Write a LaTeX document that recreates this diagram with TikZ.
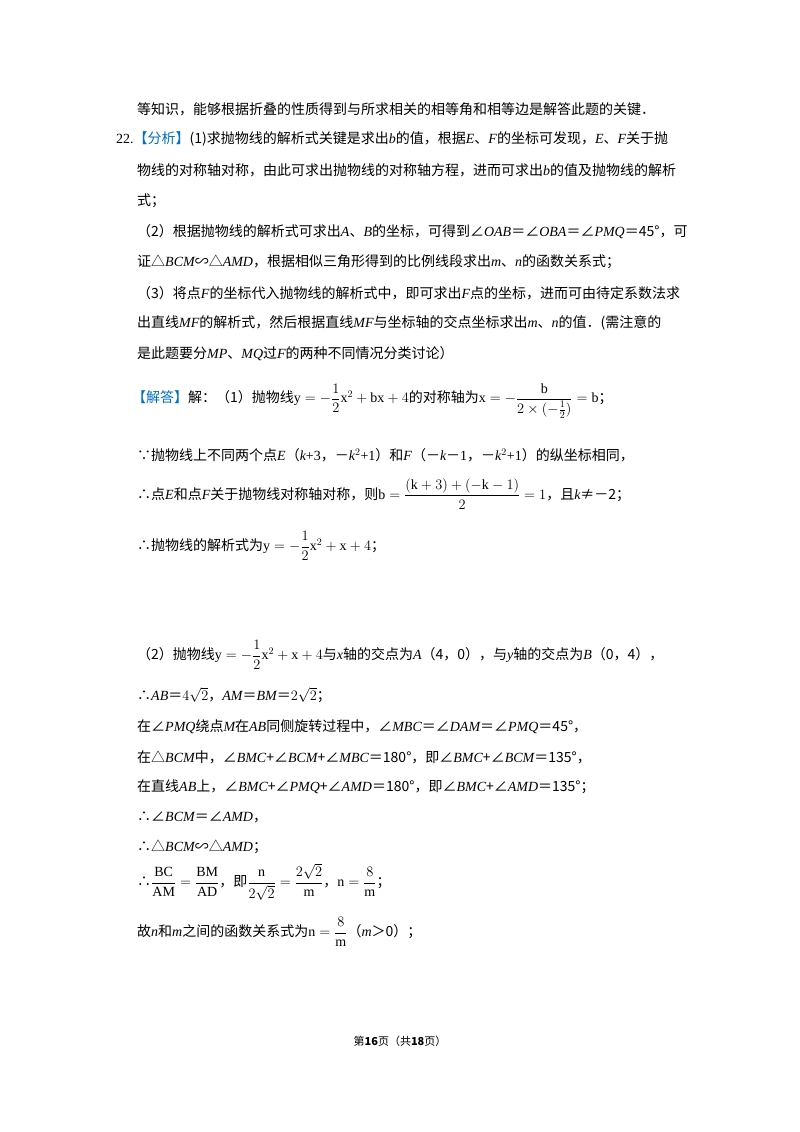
\documentclass[tikz,border=0pt]{standalone}
\usepackage{amsmath}
\usepackage{fontspec}
\setmainfont{Noto Sans CJK SC}
\setmathrm{Liberation Serif}
\newfontfamily\tmr{Liberation Serif}
\newcommand\vi[1]{{\tmr\itshape #1}}
\newcommand\rmn[1]{{\tmr #1}}
\definecolor{blu}{RGB}{0,112,192}
\begin{document}
\begin{tikzpicture}[x=1pt,y=-1pt,
  ln/.style={anchor=west,inner sep=0pt,font=\fontsize{14}{16}\selectfont}]
\useasboundingbox (0,0) rectangle (800,1132);
\fill[white] (0,0) rectangle (800,1132);
\node[ln] (l1) at (137,109) {等知识，能够根据折叠的性质得到与所求相关的相等角和相等边是解答此题的关键．};
\node[ln] (l2) at (116,139) {\rmn{22.}\textcolor{blu}{【分析】}(1)求抛物线的解析式关键是求出\vi{b}的值，根据\vi{E}、\vi{F}的坐标可发现，\vi{E}、\vi{F}关于抛};
\node[ln] (l3) at (137,170) {物线的对称轴对称，由此可求出抛物线的对称轴方程，进而可求出\vi{b}的值及抛物线的解析};
\node[ln] (l4) at (137,201) {式；};
\node[ln] (l5) at (137,232) {（2）根据抛物线的解析式可求出\vi{A}、\vi{B}的坐标，可得到∠\vi{OAB}＝∠\vi{OBA}＝∠\vi{PMQ}＝45°，可};
\node[ln] (l6) at (137,262) {证△\vi{BCM}∽△\vi{AMD}，根据相似三角形得到的比例线段求出\vi{m}、\vi{n}的函数关系式；};
\node[ln] (l7) at (137,293) {（3）将点\vi{F}的坐标代入抛物线的解析式中，即可求出\vi{F}点的坐标，进而可由待定系数法求};
\node[ln] (l8) at (137,323) {出直线\vi{MF}的解析式，然后根据直线\vi{MF}与坐标轴的交点坐标求出\vi{m}、\vi{n}的值．(需注意的};
\node[ln] (l9) at (137,354) {是此题要分\vi{MP}、\vi{MQ}过\vi{F}的两种不同情况分类讨论）};
\node[ln] (l10) at (132,401) {\textcolor{blu}{【解答】}解：（1）抛物线$\mathrm{y}=-\dfrac{1}{2}\mathrm{x}^2+\mathrm{bx}+4$的对称轴为$\mathrm{x}=-\dfrac{\mathrm{b}}{2\times(-\frac{1}{2})}=\mathrm{b}$；};
\node[ln] (l11) at (137,455) {∵抛物线上不同两个点\vi{E}（\vi{k}\rmn{+3}，－\vi{k}\rmn{$^2$+1}）和\vi{F}（－\vi{k}－\rmn{1}，－\vi{k}\rmn{$^2$+1}）的纵坐标相同，};
\node[ln] (l12) at (137,494) {∴点\vi{E}和点\vi{F}关于抛物线对称轴对称，则$\mathrm{b}=\dfrac{(\mathrm{k}+3)+(-\mathrm{k}-1)}{2}=1$，且\vi{k}≠－2；};
\node[ln] (l13) at (137,546) {∴抛物线的解析式为$\mathrm{y}=-\dfrac{1}{2}\mathrm{x}^2+\mathrm{x}+4$；};
\node[ln] (l14) at (137,655) {（2）抛物线$\mathrm{y}=-\dfrac{1}{2}\mathrm{x}^2+\mathrm{x}+4$与\vi{x}轴的交点为\vi{A}（4，0），与\vi{y}轴的交点为\vi{B}（0，4），};
\node[ln] (l15) at (137,695) {∴\vi{AB}＝$4\sqrt{2}$，\vi{AM}＝\vi{BM}＝$2\sqrt{2}$；};
\node[ln] (l16) at (137,727) {在∠\vi{PMQ}绕点\vi{M}在\vi{AB}同侧旋转过程中，∠\vi{MBC}＝∠\vi{DAM}＝∠\vi{PMQ}＝45°，};
\node[ln] (l17) at (137,757) {在△\vi{BCM}中，∠\vi{BMC}+∠\vi{BCM}+∠\vi{MBC}＝180°，即∠\vi{BMC}+∠\vi{BCM}＝135°，};
\node[ln] (l18) at (137,787) {在直线\vi{AB}上，∠\vi{BMC}+∠\vi{PMQ}+∠\vi{AMD}＝180°，即∠\vi{BMC}+∠\vi{AMD}＝135°；};
\node[ln] (l19) at (137,817) {∴∠\vi{BCM}＝∠\vi{AMD}，};
\node[ln] (l20) at (137,847) {∴△\vi{BCM}∽△\vi{AMD}；};
\node[ln] (l21) at (137,882) {∴$\dfrac{\mathrm{BC}}{\mathrm{AM}}=\dfrac{\mathrm{BM}}{\mathrm{AD}}$，即$\dfrac{\mathrm{n}}{2\sqrt{2}}=\dfrac{2\sqrt{2}}{\mathrm{m}}$，$\mathrm{n}=\dfrac{8}{\mathrm{m}}$；};
\node[ln] (l22) at (137,932) {故\vi{n}和\vi{m}之间的函数关系式为$\mathrm{n}=\dfrac{8}{\mathrm{m}}$（\vi{m}＞0）；};
\node[anchor=center,inner sep=0pt,font=\fontsize{11}{13}\selectfont] (ft) at (400,1041) {第\textbf{16}页（共\textbf{18}页）};
\end{tikzpicture}
\end{document}
